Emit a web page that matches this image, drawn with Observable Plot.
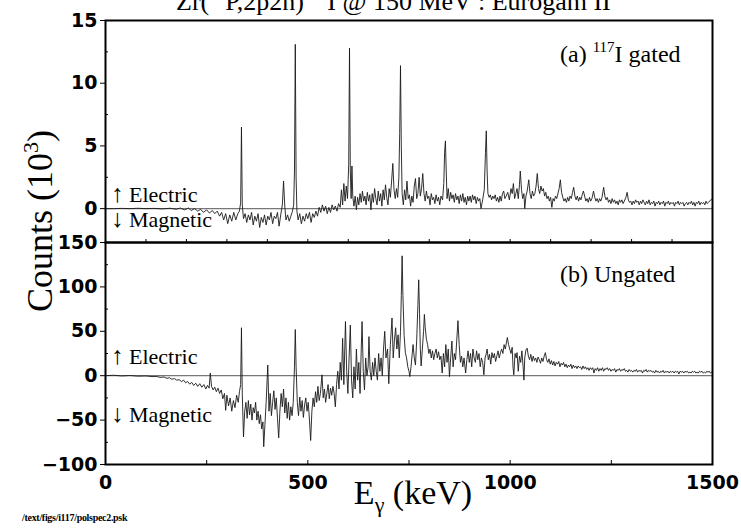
<!DOCTYPE html>
<html><head><meta charset="utf-8">
<script src="https://cdn.jsdelivr.net/npm/d3@7"></script>
<script src="https://cdn.jsdelivr.net/npm/@observablehq/plot@0.6"></script>
<style>
html,body{margin:0;padding:0;background:#fff;}
#chart{position:relative;width:741px;height:530px;overflow:hidden;background:#fff;}
#top,#bottom{position:absolute;left:0;}
#top{top:0px;}
#bottom{top:222px;}
#overlay{position:absolute;left:0;top:0;pointer-events:none;}
#overlay text{font-family:"Liberation Serif","Times New Roman",serif;fill:#000;}
</style></head>
<body>
<div id="chart">
<div id="top"></div>
<div id="bottom"></div>
<svg id="overlay" width="741" height="530">
  <text x="176" y="10" font-size="26">Zr(<tspan dy="-11" font-size="16">31</tspan><tspan dy="11">P,2p2n)</tspan><tspan dy="-11" font-size="16">117</tspan><tspan dy="11">I @ 150 MeV : Eurogam II</tspan></text>
  <text transform="translate(52,221) rotate(-90)" text-anchor="middle" font-size="36">Counts (10<tspan dy="-14" font-size="22">3</tspan><tspan dy="14">)</tspan></text>
  <text x="413" y="504" text-anchor="middle" font-size="34">E<tspan dy="8" font-size="22">γ</tspan><tspan dy="-8"> (keV)</tspan></text>
  <text x="22" y="521" font-size="10" font-weight="bold" letter-spacing="-0.3">/text/figs/i117/polspec2.psk</text>
  <text x="111" y="202" font-size="22"><tspan font-size="25">↑</tspan> Electric</text>
  <text x="111" y="227" font-size="22"><tspan font-size="25">↓</tspan> Magnetic</text>
  <text x="111" y="364" font-size="22"><tspan font-size="25">↑</tspan> Electric</text>
  <text x="111" y="422" font-size="22"><tspan font-size="25">↓</tspan> Magnetic</text>
  <text x="560" y="62" font-size="24">(a) <tspan dy="-10" font-size="15">117</tspan><tspan dy="10">I gated</tspan></text>
  <text x="560" y="282" font-size="24">(b) Ungated</text>
</svg>
</div>
<script>
// Panel (a): 117I-gated polarisation spectrum (x: keV, y: 10^3 counts)
const energyA = [
  0,20,40,60,80,100,120,140,160,175,
  185,195,205,212,220,228,235,242,250,257,
  264,270,276,282,287,292,297,302,307,312,
  317,322,327,331,334,336,338,341,345,349,
  353,357,361,365,369,373,377,381,385,389,
  393,397,401,405,409,413,417,421,425,429,
  433,437,440,443,446,450,454,458,462,465,
  467,469,471,473,476,480,484,488,492,496,
  500,504,508,512,516,520,524,528,532,536,
  540,544,548,552,556,560,564,568,572,576,
  580,583,586,589,592,595,598,601,603,605,
  607,609,611,614,617,620,623,626,629,632,
  635,638,641,644,647,650,653,656,659,662,
  665,668,671,674,677,680,683,686,689,692,
  695,698,701,704,707,710,713,716,719,722,
  725,727,729,731,733,736,739,742,745,748,
  751,754,757,760,763,766,769,772,775,778,
  781,784,787,790,793,796,799,802,805,808,
  811,814,817,820,823,826,829,833,836,838,
  840,842,844,847,850,853,856,859,862,865,
  868,871,874,877,880,883,886,889,892,895,
  898,901,904,907,910,913,916,919,922,925,
  928,932,936,939,941,943,945,948,951,954,
  957,960,963,966,969,972,975,978,981,984,
  987,990,994,998,1002,1005,1008,1011,1014,1017,
  1020,1023,1025,1028,1031,1034,1036,1039,1042,1046,
  1049,1052,1055,1058,1061,1064,1067,1070,1073,1076,
  1079,1082,1085,1088,1091,1094,1097,1100,1103,1106,
  1109,1112,1115,1118,1121,1124,1127,1130,1133,1136,
  1139,1142,1145,1148,1151,1154,1157,1160,1163,1166,
  1169,1172,1175,1178,1181,1184,1187,1190,1193,1196,
  1199,1202,1206,1209,1212,1215,1218,1221,1224,1227,
  1231,1234,1237,1240,1243,1246,1249,1252,1255,1258,
  1261,1264,1267,1270,1273,1276,1279,1282,1286,1289,
  1292,1295,1298,1301,1304,1307,1310,1313,1316,1319,
  1322,1325,1328,1331,1334,1337,1340,1343,1346,1349,
  1352,1355,1358,1361,1364,1367,1370,1373,1376,1379,
  1382,1385,1388,1391,1394,1397,1400,1403,1406,1409,
  1412,1415,1418,1421,1424,1427,1430,1433,1436,1439,
  1442,1445,1448,1451,1454,1457,1460,1463,1466,1469,
  1472,1475,1478,1481,1484,1487,1490,1493,1496,1499
];
const countsA = [
  0,0,0.02,0,0.03,0,0.02,-0.02,0.03,-0.05,
  0.05,-0.1,0.05,-0.15,0,-0.2,-0.05,-0.3,-0.1,-0.35,
  -0.15,-0.4,-0.2,-0.6,-0.3,-0.9,-0.4,-1.2,-0.5,-1.0,
  -0.3,-0.9,-0.4,-0.2,0.5,6.5,0.3,-0.8,-0.4,-1.1,
  -0.5,-0.9,-0.3,-1.3,-0.6,-1.0,-0.4,-1.5,-0.7,-1.1,
  -0.5,-1.3,-0.6,-0.9,-0.3,-1.2,-0.6,-0.8,-0.3,-1.4,
  -0.5,0.3,2.2,0.2,-0.9,-0.5,-1.0,-0.6,-0.2,0.3,
  3.0,13.1,2.5,-0.2,-0.9,-0.4,-1.2,-0.6,-1.0,-0.4,
  -0.8,-0.3,-1.1,-0.4,-0.7,-0.2,-0.6,0.1,-0.3,0.3,
  -0.2,0.2,-0.4,0.1,-0.3,0.3,-0.1,0.2,-0.2,0.4,
  0.1,1.5,0.3,2.0,0.6,1.8,0.8,3.5,12.8,3.0,
  0.8,3.4,1.0,0.2,1.0,-0.1,0.9,0.3,1.2,0.5,
  1.4,0.6,1.0,0.3,1.3,0.6,1.1,-0.1,1.2,0.5,
  1.6,0.8,0.3,1.4,0.6,1.2,0.2,1.5,0.7,1.9,
  0.9,0.3,1.6,0.9,2.2,3.6,1.5,0.8,1.6,0.9,
  2.5,6.0,11.4,5.0,1.2,0.3,1.5,0.7,2.2,0.8,
  1.1,0.2,1.0,0.5,1.8,2.4,0.8,1.2,2.5,1.0,
  1.6,2.8,1.2,0.6,1.4,0.8,1.0,0.3,1.2,0.7,
  0.9,0.4,1.1,0.6,0.9,0.3,1.0,0.7,2.0,4.5,
  5.4,3.0,0.8,1.6,0.6,1.3,0.8,1.1,0.5,1.2,
  0.7,1.0,0.4,1.1,0.6,1.2,0.5,0.9,0.3,1.0,
  0.6,1.0,0.5,1.1,0.7,1.0,0.4,0.9,0.6,0.8,
  0.0,0.7,1.5,4.5,6.2,3.0,1.2,0.9,1.1,0.7,
  1.0,0.8,1.1,0.6,0.9,0.5,1.0,0.6,1.2,1.4,
  0.8,1.0,1.3,0.7,1.6,1.2,2.0,0.8,1.2,1.6,
  0.8,1.9,3.0,1.5,0.8,1.2,0.0,1.0,1.4,2.3,
  1.2,0.8,1.4,1.0,1.2,1.8,2.8,1.6,1.2,1.8,
  1.4,1.6,1.0,1.3,0.8,1.0,0.6,0.9,0.1,0.8,
  0.6,1.0,0.8,1.2,1.6,2.3,1.3,0.9,0.6,0.8,
  0.5,0.9,0.6,1.0,0.8,1.3,1.7,1.0,0.7,1.0,
  0.6,0.9,0.7,1.1,1.4,1.0,0.6,0.8,0.5,0.9,
  0.6,0.8,1.4,0.9,0.6,0.8,0.5,0.8,0.6,0.9,
  1.7,1.0,0.7,0.9,0.5,0.7,0.4,0.8,0.5,0.7,
  0.4,0.6,0.3,0.7,0.5,0.7,0.4,0.6,0.9,1.3,
  0.7,0.5,0.6,0.3,0.6,0.4,0.7,0.5,0.6,0.3,
  0.6,0.4,0.7,0.5,0.3,0.6,0.4,0.7,0.3,0.5,
  0.4,0.6,0.2,0.5,0.4,0.6,0.3,0.5,0.4,0.6,
  0.2,0.5,0.4,0.6,0.3,0.5,0.4,0.5,0.2,0.5,
  0.4,0.6,0.3,0.5,0.4,0.5,0.2,0.4,0.5,0.3,
  0.5,0.4,0.6,0.3,0.5,0.2,0.5,0.4,0.6,0.3,
  0.5,0.4,0.5,0.3,0.6,0.4,0.5,0.6,0.7,0.8
];

// Panel (b): ungated polarisation spectrum
const energyB = [
  0,20,40,60,80,100,115,125,135,145,
  152,158,164,170,176,182,188,193,198,203,
  208,213,218,223,228,233,238,243,248,252,
  256,259,262,266,270,274,278,282,286,290,
  294,297,300,304,308,312,316,320,324,328,
  331,334,336,338,341,344,347,350,353,356,
  359,362,365,368,371,374,377,380,383,386,
  389,391,394,397,401,404,407,410,413,416,
  419,422,425,428,431,434,437,440,443,446,
  449,452,455,458,461,464,467,469,471,474,
  477,480,483,486,489,492,495,498,501,504,
  507,510,513,516,519,522,525,528,531,535,
  538,541,544,547,550,553,556,559,562,565,
  568,571,574,577,580,583,586,589,593,596,
  599,602,605,608,611,614,617,620,623,626,
  629,632,634,637,640,643,646,649,651,654,
  657,660,663,666,669,672,675,678,681,684,
  687,690,693,697,700,704,708,711,714,717,
  720,723,726,729,731,733,735,738,741,744,
  747,750,752,755,758,760,763,766,769,772,
  774,776,778,780,783,786,788,790,793,796,
  799,802,805,808,811,814,817,820,823,826,
  829,832,835,838,841,844,847,850,853,856,
  859,862,865,868,871,874,877,880,883,886,
  890,893,896,899,902,905,908,911,914,917,
  920,923,926,929,932,935,938,941,943,946,
  949,952,955,958,961,964,967,970,973,976,
  979,982,985,988,991,993,996,999,1002,1005,
  1007,1009,1012,1015,1017,1020,1023,1026,1029,1032,
  1034,1036,1039,1042,1045,1048,1051,1054,1057,1060,
  1063,1066,1069,1072,1075,1078,1081,1084,1087,1090,
  1093,1096,1099,1102,1105,1108,1111,1114,1117,1120,
  1123,1126,1129,1132,1135,1138,1141,1144,1147,1150,
  1153,1156,1159,1162,1165,1168,1171,1174,1177,1180,
  1183,1186,1189,1192,1195,1198,1201,1204,1207,1210,
  1213,1216,1219,1222,1225,1228,1231,1234,1237,1240,
  1243,1246,1249,1252,1255,1258,1261,1264,1267,1270,
  1273,1276,1279,1282,1285,1288,1291,1294,1297,1300,
  1303,1306,1309,1312,1315,1318,1321,1324,1327,1330,
  1333,1336,1339,1342,1345,1348,1351,1354,1357,1360,
  1363,1366,1369,1372,1375,1378,1381,1384,1387,1390,
  1393,1396,1399,1402,1405,1408,1411,1414,1417,1420,
  1423,1426,1429,1432,1435,1438,1441,1444,1447,1450,
  1453,1456,1459,1462,1465,1468,1471,1474,1477,1480,
  1483,1486,1489,1492,1495,1498,1500
];
const countsB = [
  0,0.5,-0.3,0.2,-0.5,-0.3,-1.0,-0.8,-1.8,-1.5,
  -3,-2.2,-4,-3.2,-5,-4.5,-6.5,-5,-8,-6.5,
  -9.5,-7.5,-11,-8.5,-12,-9,-13,-10,-15,-11,
  -14,3,-12,-16,-13,-18,-14,-20,-16,-26,
  -20,-39,-22,-34,-25,-40,-28,-36,-22,-30,
  -18,-10,54,-20,-69,-40,-30,-48,-28,-44,
  -32,-50,-36,-42,-30,-50,-40,-54,-44,-60,
  -52,-80,-55,-30,12,-40,-20,-45,-30,-17,
  -38,-25,-48,-70,-40,-20,-35,-15,-42,-25,
  -48,-30,-50,-35,-45,-30,10,52,10,-30,
  -45,-24,-40,-28,-47,-33,-25,-40,-30,-50,
  -73,-40,-25,-35,-18,-30,-12,-28,-20,1,
  -25,-15,-30,-20,-10,-26,-14,-22,-12,-20,
  -35,-10,5,-15,15,-5,42,-10,61,5,
  -20,20,57,-5,-25,10,-15,30,-5,15,
  -20,30,61,5,-16,20,0,10,44,5,
  -5,15,0,20,5,-5,25,5,20,0,
  30,50,20,30,-9,35,65,20,40,54,
  30,46,20,50,90,135,90,45,26,20,
  10,5,-1,10,25,35,20,12,40,80,
  108,70,30,11,30,50,69,55,41,35,
  25,30,20,28,18,25,30,20,27,18,
  22,3,25,10,35,15,30,-1,20,39,
  10,25,18,40,62,35,15,22,10,20,
  3,18,28,15,25,10,30,20,15,28,
  18,25,10,20,15,1,20,25,30,18,
  24,13,26,20,25,16,22,28,20,26,
  30,25,35,30,38,43,35,30,25,32,
  10,1,25,20,26,5,22,15,28,10,
  -5,20,29,31,22,18,24,16,22,17,
  20,15,21,18,14,20,16,22,26,18,
  15,19,13,17,12,16,11,15,13,16,
  10,14,12,15,10,13,9,12,10,13,
  8,12,9,11,8,11,9,10,7,11,
  8,10,7,9,6,9,7,9,3,8,
  6,9,5,8,6,9,5,8,7,9,
  6,8,5,7,6,8,4,7,6,8,
  5,7,6,8,5,6,4,7,5,6,
  4,6,5,7,4,6,5,6,3,6,
  5,7,4,6,5,6,4,5,3,6,
  4,5,3,5,4,6,3,5,4,5,
  3,5,4,5,3,5,4,5,2,5,
  4,5,3,5,4,5,3,4,3,5,
  4,5,3,4,3,5,4,5,3,4,
  3,5,4,5,3,4,5
];

// Axis ticks and labels
const xTickLabels = [0, 500, 1000, 1500];
const xMinorBottom = [250, 500, 750, 1000, 1250];
const xMinorTop = [100, 200, 300, 400, 500, 600, 700, 800, 900, 1000, 1100, 1200, 1300, 1400];
const yTicksA = [0, 5, 10, 15];
const yMinorA = [2.5, 7.5, 12.5];
const yTicksB = [-100, -50, 0, 50, 100, 150];
const yMinorB = [-75, -25, 25, 75, 125];

const dataA = energyA.map((e, i) => ({e, c: countsA[i]}));
const dataB = energyB.map((e, i) => ({e, c: countsB[i]}));

const fmt = d => d < 0 ? "\u2212" + Math.abs(d) : String(d);
const baseStyle = {background: "transparent", fontFamily: "'DejaVu Sans', sans-serif", fontSize: "19px", fontWeight: "bold", color: "black", overflow: "visible"};
const W = 741, ML = 105, MR = 29;
const frameW = W - ML - MR;

const topPlot = Plot.plot({
  width: W, height: 260, marginLeft: ML, marginRight: MR, marginTop: 20, marginBottom: 18,
  style: baseStyle,
  x: {domain: [0, 1500], axis: null, label: null},
  y: {domain: [-2.7, 15], axis: null, label: null},
  marks: [
    Plot.ruleY([0], {stroke: "#777", strokeWidth: 1.2}),
    Plot.line(dataA, {x: "e", y: "c", stroke: "#1a1a1a", strokeWidth: 0.9}),
    Plot.axisY(yTicksA, {anchor: "left", label: null, tickSize: 5, tickPadding: 3, tickFormat: fmt, fontSize: 19}),
    Plot.tickY(yMinorA, {y: d => d, insetRight: frameW - 3, stroke: "black"}),
    Plot.tickX(xMinorTop, {x: d => d, insetTop: 222 - 3, stroke: "black"}),
    Plot.frame({stroke: "black", strokeWidth: 2})
  ]
});

const bottomPlot = Plot.plot({
  width: W, height: 308, marginLeft: ML, marginRight: MR, marginTop: 20, marginBottom: 66,
  style: baseStyle,
  x: {domain: [0, 1500], axis: null, label: null},
  y: {domain: [-100, 150], axis: null, label: null},
  marks: [
    Plot.ruleY([0], {stroke: "#777", strokeWidth: 1.2}),
    Plot.line(dataB, {x: "e", y: "c", stroke: "#1a1a1a", strokeWidth: 0.9}),
    Plot.axisY(yTicksB, {anchor: "left", label: null, tickSize: 5, tickPadding: 3, tickFormat: fmt, fontSize: 19}),
    Plot.tickY(yMinorB, {y: d => d, insetRight: frameW - 3, stroke: "black"}),
    Plot.axisX(xTickLabels, {anchor: "bottom", label: null, tickSize: 0, tickPadding: 11, tickFormat: fmt, fontSize: 19}),
    Plot.tickX(xMinorBottom, {x: d => d, insetTop: 222 - 4, stroke: "black"}),
    Plot.frame({stroke: "black", strokeWidth: 2})
  ]
});

document.getElementById("top").appendChild(topPlot);
document.getElementById("bottom").appendChild(bottomPlot);
</script>
</body></html>
